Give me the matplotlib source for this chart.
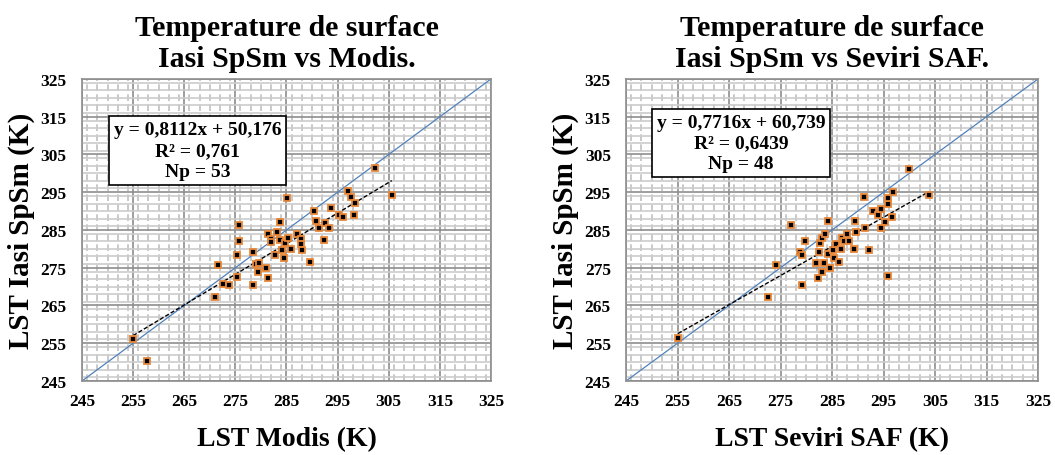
#Scatter LST comparison (Iasi SpSm vs Modis / Seviri SAF)
import numpy as np
import matplotlib.pyplot as plt
from matplotlib.ticker import MultipleLocator

plt.rcParams['font.family'] = ['Liberation Serif', 'DejaVu Serif']
plt.rcParams['font.weight'] = 'bold'

#Data
modis_x = [255.0, 257.7, 271.1, 271.7, 272.6, 273.8, 275.3, 275.4, 275.7, 275.7,
           278.4, 278.5, 279.0, 279.6, 279.4, 281.0, 281.4, 281.4, 281.9, 282.0,
           282.7, 283.1, 283.8, 283.8, 284.2, 284.5, 284.8, 285.1, 285.3, 285.8,
           287.0, 287.9, 287.9, 288.1, 289.6, 290.4, 290.8, 291.3, 292.5, 292.4,
           293.4, 293.8, 295.3, 296.0, 297.1, 297.6, 298.4, 298.2, 302.3, 305.6]
modis_y = [256.2, 250.2, 267.3, 275.6, 270.7, 270.3, 278.4, 272.6, 282.1, 286.3,
           279.1, 270.3, 276.1, 276.3, 274.0, 274.9, 272.4, 284.0, 282.7, 281.8,
           278.5, 284.4, 287.1, 282.3, 279.6, 277.6, 281.6, 293.6, 282.9, 279.9,
           283.9, 282.5, 281.2, 279.7, 276.5, 289.9, 287.4, 285.5, 286.9, 282.4,
           285.6, 290.7, 289.1, 288.5, 295.2, 293.7, 292.1, 289.0, 301.3, 294.3]

seviri_x = [255.1, 272.6, 274.2, 277.1, 278.7, 279.2, 279.1, 279.7, 281.8, 282.2,
            282.4, 282.6, 283.1, 283.7, 283.1, 283.4, 284.2, 284.6, 284.2, 285.1,
            285.4, 285.8, 286.3, 286.7, 286.9, 287.3, 288.0, 288.2, 289.2, 289.6,
            289.5, 291.4, 292.2, 291.2, 292.9, 294.0, 294.6, 295.2, 294.6, 295.8,
            295.8, 296.8, 296.6, 295.8, 299.9, 303.8]
seviri_y = [256.3, 267.3, 275.8, 286.4, 279.1, 278.4, 270.4, 282.1, 276.2, 272.4,
            279.3, 281.5, 282.8, 284.0, 274.0, 276.2, 278.6, 274.9, 287.3, 279.8,
            277.6, 281.3, 276.6, 279.9, 283.0, 282.0, 283.9, 282.1, 279.9, 284.5,
            287.4, 285.6, 279.8, 293.8, 290.1, 289.0, 290.6, 287.0, 285.5, 292.0,
            293.6, 295.1, 288.4, 272.7, 301.2, 294.4]

#Regression coefficients and stats shown in the boxes
fits = [(0.8112, 50.176), (0.7716, 60.739)]
boxes = ['y = 0,8112x + 50,176\nR² = 0,761\nNp = 53',
         'y = 0,7716x + 60,739\nR² = 0,6439\nNp = 48']
titles = ['Temperature de surface\nIasi SpSm vs Modis.',
          'Temperature de surface\nIasi SpSm vs Seviri SAF.']
xlabels = ['LST Modis (K)', 'LST Seviri SAF (K)']
box_pos = [(0.282, 0.763), (0.279, 0.788)]

lo, hi = 245, 325

fig = plt.figure(figsize=(10.55, 4.56), dpi=100)
ax1 = fig.add_axes([0.0777, 0.1623, 0.3877, 0.6623])
ax2 = fig.add_axes([0.5934, 0.1623, 0.3905, 0.6623])

for i, (ax, xs, ys) in enumerate([(ax1, modis_x, modis_y), (ax2, seviri_x, seviri_y)]):
    ax.set_xlim(lo, hi)
    ax.set_ylim(lo, hi)
    ax.xaxis.set_minor_locator(MultipleLocator(2))
    ax.yaxis.set_minor_locator(MultipleLocator(2))
    ax.set_xticks(np.arange(lo, hi + 1, 10))
    ax.set_yticks(np.arange(lo, hi + 1, 10))
    # grid: light minor lines, vertical ones dashed
    ax.grid(which='minor', axis='y', color='#cccccc', lw=1.2, ls='-')
    ax.grid(which='minor', axis='x', color='#c0c0c0', lw=1.2, ls=(0, (4, 2)))
    ax.grid(which='major', color='#8e8e8e', lw=1.2)
    ax.set_axisbelow(True)
    for s in ax.spines.values():
        s.set_color('#8e8e8e')
        s.set_linewidth(1.2)
    ax.tick_params(which='both', length=0, labelsize=12.5)
    ax.tick_params(axis='y', pad=11)
    ax.tick_params(axis='x', pad=9)

    # 1:1 line
    ax.plot([lo, hi], [lo, hi], color='#4f81bd', lw=0.9)
    # regression line over data range
    a, b = fits[i]
    xr = np.array([min(xs), max(xs)])
    ax.plot(xr, a * xr + b, color='black', lw=1.0, ls=(0, (3, 1.5)), zorder=3)
    ax.plot(xs, ys, 's', ms=4.8, mfc='black', mec='#e8883a', mew=1.3, zorder=4)

    ax.text(box_pos[i][0], box_pos[i][1], boxes[i], transform=ax.transAxes,
            ha='center', va='center', fontsize=14, fontweight='bold',
            linespacing=1.3,
            bbox=dict(boxstyle='square,pad=0.25', fc='white', ec='black', lw=1.2),
            zorder=6)

    ax.set_title(titles[i], fontsize=21.5, fontweight='bold', pad=9, linespacing=1.2)
    ax.set_xlabel(xlabels[i], fontsize=20, fontweight='bold', labelpad=12)
    ax.set_ylabel('LST Iasi SpSm (K)', fontsize=21, fontweight='bold', labelpad=4)

plt.savefig('out.png', dpi=100)
